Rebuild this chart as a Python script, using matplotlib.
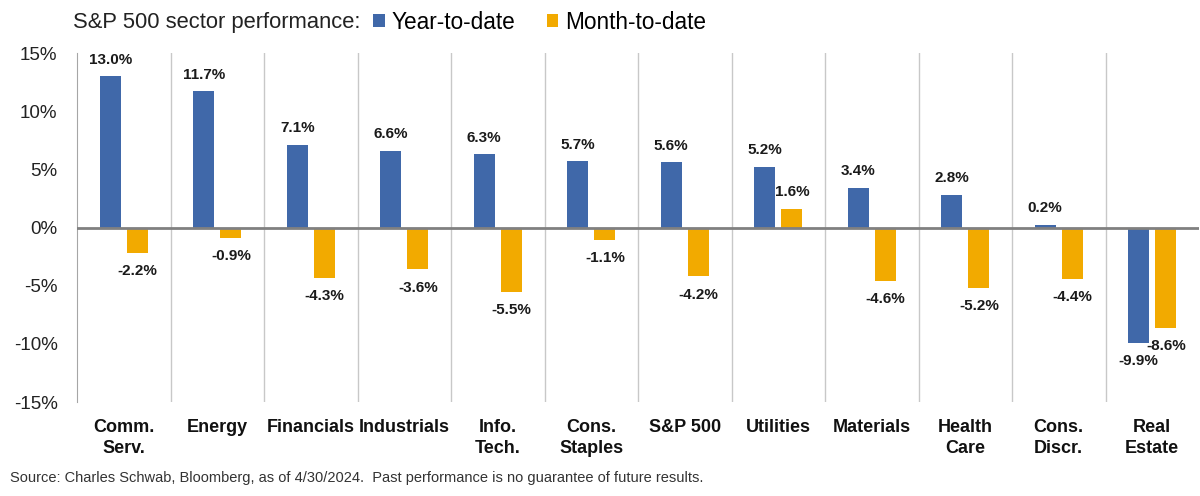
import matplotlib.pyplot as plt
import numpy as np

plt.rcParams['font.family'] = ['Liberation Sans', 'DejaVu Sans']

categories = ["Comm.\nServ.", "Energy", "Financials", "Industrials", "Info.\nTech.",
              "Cons.\nStaples", "S&P 500", "Utilities", "Materials", "Health\nCare",
              "Cons.\nDiscr.", "Real\nEstate"]
ytd = [13.0, 11.7, 7.1, 6.6, 6.3, 5.7, 5.6, 5.2, 3.4, 2.8, 0.2, -9.9]
mtd = [-2.2, -0.9, -4.3, -3.6, -5.5, -1.1, -4.2, 1.6, -4.6, -5.2, -4.4, -8.6]
yticks = [15, 10, 5, 0, -5, -10, -15]

blue = '#4068A9'
gold = '#F2AA00'

fig = plt.figure(figsize=(12, 4.96), dpi=100)
ax = fig.add_axes([0.0642, 0.1895, 0.935, 0.7035])

x = np.arange(len(categories))
w = 0.225
b1 = ax.bar(x - 0.145, ytd, w, color=blue, label='Year-to-date', zorder=2)
b2 = ax.bar(x + 0.145, mtd, w, color=gold, label='Month-to-date', zorder=2)

# data labels above / below each bar
for bars, vals in ((b1, ytd), (b2, mtd)):
    for rect, v in zip(bars, vals):
        cx = rect.get_x() + rect.get_width() / 2
        if v >= 0:
            ax.annotate(f"{v:.1f}%", (cx, v), xytext=(0, 7), textcoords='offset points',
                        ha='center', va='bottom', fontsize=11, fontweight='bold', color='#1a1a1a')
        else:
            ax.annotate(f"{v:.1f}%", (cx, v), xytext=(0, -8), textcoords='offset points',
                        ha='center', va='top', fontsize=11, fontweight='bold', color='#1a1a1a')

# category separators
for b in np.arange(0.5, len(categories) - 1, 1.0):
    ax.axvline(b, color='#C8C8C8', lw=1, zorder=1)
ax.axhline(0, color='#808080', lw=2, zorder=3)

ax.set_xlim(-0.5, len(categories) - 0.5)
ax.set_ylim(-15, 15)
ax.set_yticks(yticks)
ax.set_yticklabels([f"{t}%" for t in yticks], fontsize=13.5, color='#222222')
ax.set_xticks(x)
ax.set_xticklabels(categories, fontsize=13, fontweight='bold', color='#111111',
                   linespacing=1.3, va='top')
ax.tick_params(axis='both', length=0)
ax.tick_params(axis='y', pad=14)
ax.tick_params(axis='x', pad=12)
for s in ('top', 'right', 'bottom'):
    ax.spines[s].set_visible(False)
ax.spines['left'].set_color('#A6A6A6')

fig.text(0.061, 0.955, "S&P 500 sector performance:", fontsize=15.8, color='#222222',
         va='center', ha='left')
fig.legend(handles=[b1, b2], loc='center left', bbox_to_anchor=(0.311, 0.955), ncol=2,
           frameon=False, fontsize=16.3, handlelength=0.5, handleheight=0.5,
           handletextpad=0.3, columnspacing=1.4, borderpad=0, borderaxespad=0)

fig.text(0.008, 0.037, "Source: Charles Schwab, Bloomberg, as of 4/30/2024.  Past performance is no guarantee of future results.",
         fontsize=10.5, color='#333333', va='center', ha='left')

fig.savefig('out.png', dpi=100)
